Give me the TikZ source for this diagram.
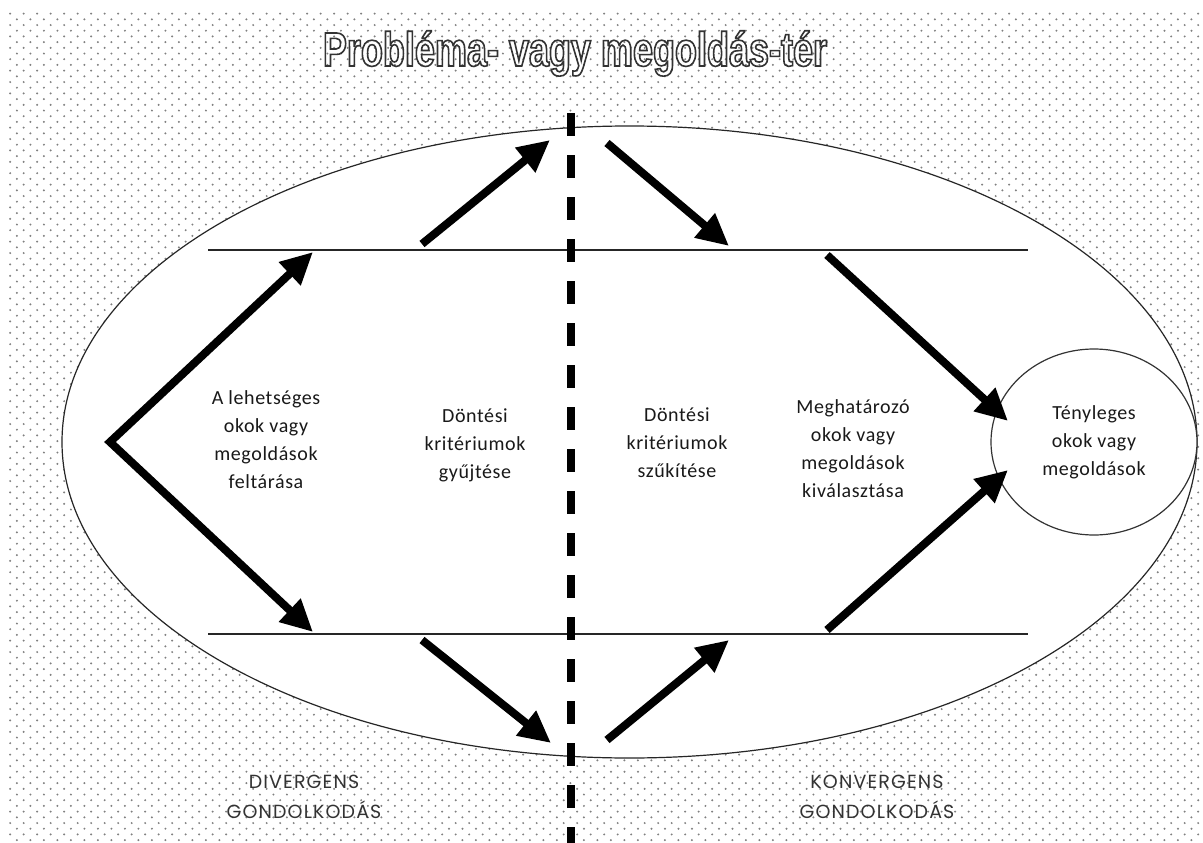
\documentclass[tikz,border=0pt]{standalone}
\usepackage{fontspec}
\setmainfont{Carlito}
\newfontfamily\titlefont[FakeStretch=0.75]{Liberation Sans}
\newfontfamily\capsfont[LetterSpace=6]{Poppins}
\newfontfamily\stagefont[LetterSpace=3]{Carlito}
\usetikzlibrary{arrows.meta,patterns,shapes.geometric}

% staggered grey dot raster for the backdrop
\pgfdeclarepatternformonly{bgdots}{\pgfpoint{-1pt}{-1pt}}{\pgfpoint{14.5pt}{12.4pt}}{\pgfpoint{13.5pt}{11.4pt}}{%
  \pgfpathcircle{\pgfpoint{3.4pt}{2.85pt}}{1.1pt}%
  \pgfpathcircle{\pgfpoint{10.15pt}{8.55pt}}{1.1pt}%
  \pgfusepath{fill}}

% hollow (stroked) lettering
\newcommand\hollowtext[1]{\special{pdf:literal direct 1 Tr 1.6 w}#1\special{pdf:literal direct 0 Tr}}

\tikzset{
  thinline/.style={line width=1.2pt, draw=black!85},
  bigarrow/.style={line width=8pt, line join=miter, -{Triangle[length=32pt,width=30pt]}},
  stagetext/.style={align=center, text=black!90, font=\stagefont\fontsize{20}{28}\selectfont},
  thinking/.style={align=center, text=black!80, font=\capsfont\fontsize{19}{30}\selectfont},
}

\begin{document}
\begin{tikzpicture}[x=1pt,y=-1pt]
\useasboundingbox (0,0) rectangle (1203,843);
\fill[white] (0,0) rectangle (1203,843);
\fill[pattern=bgdots, pattern color=black!50] (8,13) rectangle (1203,843);

% title, outlined letters
\node[anchor=base, inner sep=0, text=black!80] (title) at (575,66)
  {\titlefont\bfseries\fontsize{48}{50}\selectfont
   \hollowtext{Probléma- vagy megoldás-tér}};

% problem / solution space
\draw[thinline, fill=white] (629.5,442) ellipse [x radius=567.5, y radius=316];

% upper and lower bounds
\coordinate (ulL) at (208,250);
\coordinate (ulR) at (1028,250);
\coordinate (llL) at (208,634);
\coordinate (llR) at (1028,634);
\draw[thinline] (ulL) -- (ulR);
\draw[thinline] (llL) -- (llR);

% result circle
\node[draw=black!80, line width=1.2pt, fill=white, ellipse, minimum width=206, minimum height=186,
      stagetext] (goal) at (1094,442) {Tényleges\\okok vagy\\megoldások};

% divider between the two phases
\coordinate (divT) at (571,113);
\coordinate (divB) at (571,843);
\draw[line width=8pt, dash pattern=on 23pt off 19pt] (divT) -- (divB);

% arrow end points
\coordinate (V) at (110,442);
\coordinate (a1) at (313,252);
\coordinate (a2) at (313,632);
\coordinate (b1s) at (422,244);
\coordinate (b1e) at (550,140);
\coordinate (b2s) at (607,143);
\coordinate (b2e) at (729,246);
\coordinate (c1s) at (827,255);
\coordinate (c1e) at (1008,421);
\coordinate (c2s) at (827,630);
\coordinate (c2e) at (1008,470);
\coordinate (d1s) at (422,640);
\coordinate (d1e) at (551,743);
\coordinate (d2s) at (607,740);
\coordinate (d2e) at (729,640);

\draw[bigarrow, {Triangle[length=32pt,width=30pt]}-{Triangle[length=32pt,width=30pt]}] (a1) -- (V) -- (a2);
\draw[bigarrow] (b1s) -- (b1e);
\draw[bigarrow] (b2s) -- (b2e);
\draw[bigarrow] (c1s) -- (c1e);
\draw[bigarrow] (c2s) -- (c2e);
\draw[bigarrow] (d1s) -- (d1e);
\draw[bigarrow] (d2s) -- (d2e);

% stage labels
\node[stagetext] (s1) at (266,440) {A lehetséges\\okok vagy\\megoldások\\feltárása};
\node[stagetext] (s2) at (475,445) {Döntési\\kritériumok\\gyűjtése};
\node[stagetext] (s3) at (677,443) {Döntési\\kritériumok\\szűkítése};
\node[stagetext] (s4) at (853,449) {Meghatározó\\okok vagy\\megoldások\\kiválasztása};

% thinking modes
\node[thinking] (div) at (304,797) {DIVERGENS\\GONDOLKODÁS};
\node[thinking] (conv) at (877,797) {KONVERGENS\\GONDOLKODÁS};
\end{tikzpicture}
\end{document}
